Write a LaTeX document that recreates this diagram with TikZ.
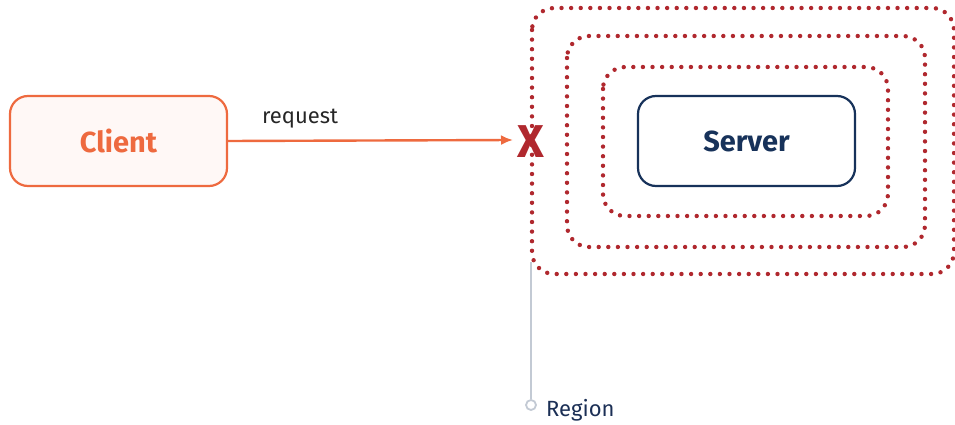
\documentclass[tikz,border=0pt]{standalone}
\usepackage{fontspec}
\setmainfont{Fira Sans}
\usetikzlibrary{arrows.meta}
\definecolor{clientorange}{HTML}{EE6A3F}
\definecolor{clientfill}{HTML}{FFF8F6}
\definecolor{servernavy}{HTML}{17325A}
\definecolor{ringred}{HTML}{B0282E}
\definecolor{leadgray}{HTML}{C3CAD4}
\definecolor{labelnavy}{HTML}{1B2F55}
\begin{document}
\begin{tikzpicture}[x=1pt,y=-1pt,
  box/.style={rounded corners=18pt, minimum width=217pt, minimum height=90pt,
    line width=2.2pt, font=\fontsize{29}{33}\selectfont\bfseries},
  ring/.style={draw=ringred, line width=4.4pt, line cap=round,
    dash pattern=on 0pt off 9.6pt, rounded corners=22pt},
]
\useasboundingbox (0,0) rectangle (955,425);

% nested regions around the server
\draw[ring] (532,8) rectangle (954,274);
\draw[ring] (567,36) rectangle (925,247);
\draw[ring] (603,67) rectangle (888,216);

\node[box, draw=clientorange, fill=clientfill, text=clientorange] (client) at (118.5,141) {Client};
\node[box, draw=servernavy, fill=white, text=servernavy] (server) at (746.5,141) {Server};

% blocked request
\node[font=\fontsize{46}{46}\selectfont\bfseries, text=ringred, inner sep=0pt] (block) at (531,142) {X};
\coordinate (tip) at (513,140);
\draw[clientorange, line width=2.4pt, -{Latex[length=12pt,width=10pt]}] (client.east) -- (tip);
\node[text=black!85, font=\fontsize{22}{26}\selectfont, inner sep=0pt] (req) at (300,119) {request};

% region callout
\node[circle, draw=leadgray, fill=white, line width=1.8pt, minimum size=10pt, inner sep=0pt] (dot) at (531,405) {};
\coordinate (leadtop) at (531,262);
\draw[leadgray, line width=2.2pt] (leadtop) -- (dot.north);
\node[anchor=west, text=labelnavy, font=\fontsize{22}{26}\selectfont, inner sep=0pt] (region) at (546,410) {Region};
\end{tikzpicture}
\end{document}
